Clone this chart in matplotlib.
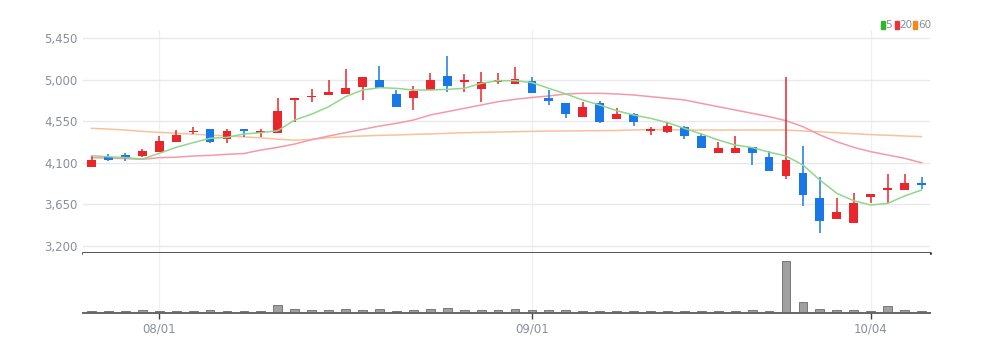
import matplotlib.pyplot as plt
import numpy as np

plt.rcParams['font.family'] = ['Liberation Sans Narrow', 'DejaVu Sans']

# daily candles (open, high, low, close)
opens = [4057, 4166, 4180, 4176, 4220, 4325, 4430, 4466, 4361, 4462,
         4426, 4419, 4781, 4809, 4835, 4846, 4925, 4997, 4842, 4798,
         4889, 5044, 4979, 4900, 4976, 4950, 4987, 4799, 4752, 4600,
         4752, 4571, 4625, 4448, 4437, 4491, 4390, 4209, 4209, 4267,
         4166, 3956, 3992, 3713, 3486, 3442, 3732, 3804, 3804, 3876]
highs = [4184, 4195, 4209, 4245, 4390, 4455, 4484, 4470, 4462, 4466,
         4462, 4799, 4806, 4896, 4997, 5117, 5030, 5149, 4889, 4936,
         5077, 5258, 5063, 5081, 5077, 5135, 5026, 4889, 4752, 4762,
         4773, 4690, 4643, 4491, 4538, 4495, 4419, 4328, 4390, 4267,
         4231, 5034, 4281, 3949, 3713, 3775, 3765, 3977, 3977, 3941]
lows = [4057, 4122, 4122, 4165, 4220, 4325, 4412, 4310, 4318, 4375,
        4375, 4419, 4545, 4762, 4835, 4846, 4780, 4907, 4708, 4672,
        4889, 4864, 4871, 4762, 4950, 4950, 4853, 4726, 4582, 4600,
        4527, 4571, 4498, 4401, 4426, 4354, 4256, 4209, 4209, 4075,
        4014, 3920, 3630, 3341, 3486, 3442, 3659, 3666, 3804, 3811]
closes = [4129, 4130, 4150, 4231, 4336, 4405, 4448, 4328, 4448, 4444,
          4444, 4665, 4802, 4827, 4871, 4907, 5026, 4907, 4708, 4878,
          4997, 4936, 4997, 4979, 4997, 5005, 4853, 4773, 4625, 4708,
          4538, 4629, 4545, 4466, 4502, 4390, 4256, 4263, 4263, 4202,
          4014, 4129, 3750, 3471, 3569, 3666, 3760, 3829, 3883, 3858]
volumes = [22, 22, 22, 30, 22, 22, 22, 30, 22, 22,
           22, 75, 35, 30, 27, 40, 30, 40, 24, 27,
           40, 46, 30, 32, 30, 44, 30, 27, 27, 20,
           20, 20, 20, 20, 20, 20, 20, 20, 20, 27,
           20, 520, 108, 44, 32, 32, 24, 66, 32, 22]

# moving averages as drawn on the chart
ma5 = [4176, 4165, 4155, 4140, 4202, 4267, 4318, 4365, 4375, 4412,
       4426, 4448, 4564, 4627, 4708, 4817, 4889, 4914, 4907, 4889,
       4889, 4896, 4907, 4961, 4990, 4990, 4970, 4907, 4846, 4781,
       4726, 4665, 4618, 4582, 4535, 4473, 4412, 4347, 4292, 4265,
       4215, 4173, 4075, 3912, 3768, 3688, 3641, 3659, 3739, 3804]
ma20 = [4155, 4150, 4145, 4137, 4155, 4160, 4173, 4180, 4191, 4200,
        4238, 4267, 4303, 4350, 4390, 4426, 4462, 4498, 4527, 4563,
        4618, 4654, 4690, 4726, 4762, 4788, 4808, 4824, 4846, 4853,
        4853, 4846, 4835, 4817, 4799, 4781, 4744, 4708, 4672, 4636,
        4600, 4556, 4491, 4401, 4328, 4267, 4220, 4184, 4148, 4100]
ma60 = [4473, 4465, 4455, 4440, 4430, 4420, 4410, 4400, 4390, 4380,
        4370, 4355, 4345, 4352, 4372, 4383, 4390, 4397, 4401, 4408,
        4412, 4419, 4426, 4430, 4433, 4437, 4440, 4444, 4444, 4446,
        4448, 4450, 4455, 4460, 4458, 4455, 4455, 4455, 4455, 4455,
        4455, 4455, 4445, 4435, 4425, 4415, 4405, 4398, 4390, 4383]

date_pos = [4, 26, 46]
date_labels = ["08/01", "09/01", "10/04"]
price_ticks = [3200, 3650, 4100, 4550, 5000, 5450]

UP = '#e8262c'
DOWN = '#1a78e6'
GRAY_TXT = '#8a8f99'

fig = plt.figure(figsize=(9.92, 3.52), dpi=100)
ax = fig.add_axes([0.0837, 0.2813, 0.8538, 0.6335])
axv = fig.add_axes([0.0837, 0.1108, 0.8538, 0.1705], sharex=ax)

x = np.arange(len(opens))
o = np.array(opens)
c = np.array(closes)
colors = [UP if cc >= oo else DOWN for oo, cc in zip(o, c)]

# wicks then bodies
ax.vlines(x, lows, highs, colors=colors, linewidth=1.1, zorder=3)
body_h = np.maximum(np.abs(c - o), 18)
body_b = np.minimum(o, c)
ax.bar(x, body_h, bottom=body_b, width=0.52, color=colors, zorder=4)

ax.plot(x, ma60, color='#f7c29a', linewidth=1.1, zorder=2)
ax.plot(x, ma20, color='#f49aa6', linewidth=1.1, zorder=2)
ax.plot(x, ma5, color='#8fd88a', linewidth=1.1, zorder=5)

ax.set_xlim(-0.5, len(opens) - 0.5)
ax.set_ylim(3121, 5540)
ax.set_yticks(price_ticks)
ax.set_yticklabels(["{:,}".format(v) for v in price_ticks], fontsize=8.5, color=GRAY_TXT)
ax.tick_params(axis='both', which='both', length=0, pad=4)
ax.tick_params(axis='x', labelbottom=False)
ax.grid(axis='y', color='#e9e9ec', linewidth=1)
for p in date_pos:
    ax.axvline(p, color='#f0f0f2', linewidth=1, zorder=0)
for s in ['top', 'right', 'left']:
    ax.spines[s].set_visible(False)
ax.spines['bottom'].set_color('#222222')
ax.spines['bottom'].set_linewidth(1.8)

# legend boxes in the top right corner
leg = [("5", '#2db82d', 880.7, 885.5), ("20", '#e8333a', 895.0, 899.5), ("60", '#f08a1e', 913.0, 918.0)]
for lab, col, sx, tx in leg:
    fig.patches.append(plt.Rectangle((sx / 992, 0.917), 3.8 / 992, 0.022,
                                     transform=fig.transFigure, color=col, figure=fig))
    fig.text(tx / 992, 0.928, lab, fontsize=7.5, color=GRAY_TXT, va='center', ha='left')

# volume panel
axv.bar(x, volumes, width=0.52, color='#a0a0a0', edgecolor='#777777', linewidth=0.7)
axv.set_ylim(0, max(volumes) * 60 / 52)
axv.set_yticks([])
for s in ['top', 'right', 'left']:
    axv.spines[s].set_visible(False)
axv.spines['bottom'].set_color('#666666')
axv.spines['bottom'].set_linewidth(1.4)
axv.set_xticks(date_pos)
axv.set_xticklabels(date_labels, fontsize=8.5, color=GRAY_TXT)
axv.tick_params(axis='x', length=4, width=1, color='#444444', pad=3)
for p in date_pos:
    axv.axvline(p, color='#f0f0f2', linewidth=1, zorder=0)

plt.savefig("out.png", dpi=100)
